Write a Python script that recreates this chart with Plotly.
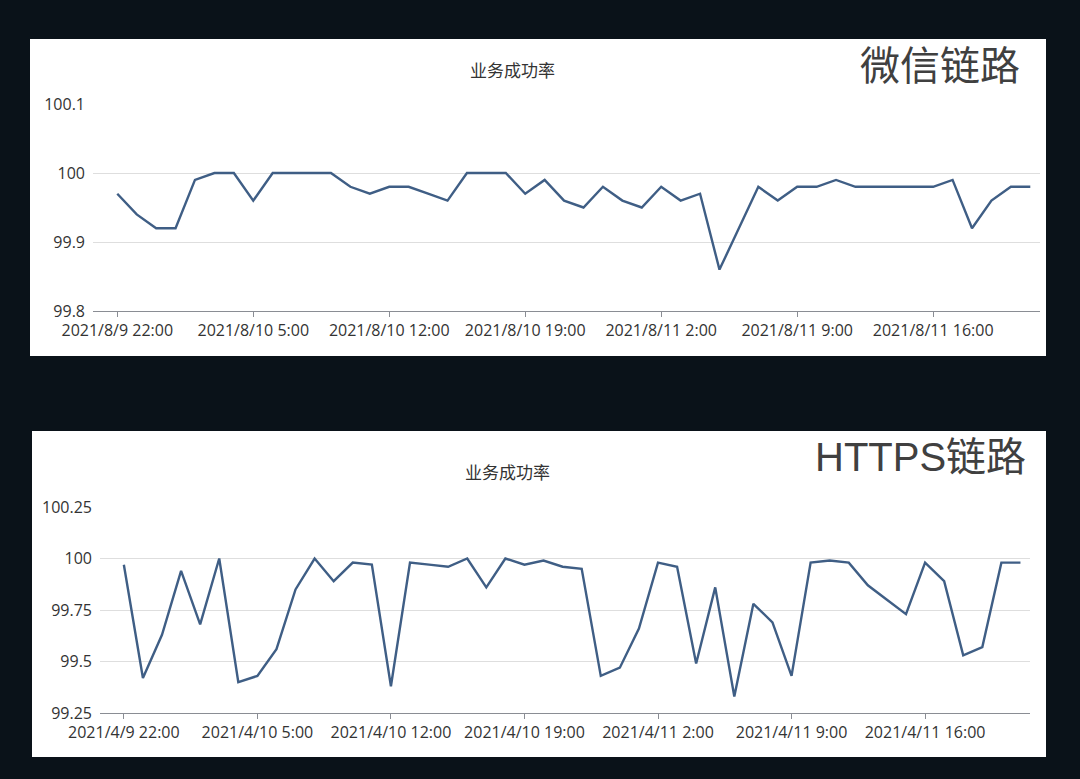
import pandas as pd
import plotly.graph_objects as go

# WeChat channel, hourly success rate (%) from 2021/8/9 22:00
wx_start = "2021-08-09 22:00"
wx_values = [99.97, 99.94, 99.92, 99.92, 99.99, 100, 100, 99.96, 100, 100,
             100, 100, 99.98, 99.97, 99.98, 99.98, 99.97, 99.96, 100, 100,
             100, 99.97, 99.99, 99.96, 99.95, 99.98, 99.96, 99.95, 99.98, 99.96,
             99.97, 99.86, 99.92, 99.98, 99.96, 99.98, 99.98, 99.99, 99.98, 99.98,
             99.98, 99.98, 99.98, 99.99, 99.92, 99.96, 99.98, 99.98]
wx_ticks = ["2021/8/9 22:00", "2021/8/10 5:00", "2021/8/10 12:00", "2021/8/10 19:00",
            "2021/8/11 2:00", "2021/8/11 9:00", "2021/8/11 16:00"]
wx_yticks = [99.8, 99.9, 100, 100.1]
wx_yticktext = ["99.8", "99.9", "100", "100.1"]

# HTTPS channel, hourly success rate (%) from 2021/4/9 22:00
https_start = "2021-04-09 22:00"
https_values = [99.97, 99.42, 99.63, 99.94, 99.68, 100, 99.40, 99.43, 99.56, 99.85,
                100, 99.89, 99.98, 99.97, 99.38, 99.98, 99.97, 99.96, 100, 99.86,
                100, 99.97, 99.99, 99.96, 99.95, 99.43, 99.47, 99.66, 99.98, 99.96,
                99.49, 99.86, 99.33, 99.78, 99.69, 99.43, 99.98, 99.99, 99.98, 99.87,
                99.80, 99.73, 99.98, 99.89, 99.53, 99.57, 99.98, 99.98]
https_ticks = ["2021/4/9 22:00", "2021/4/10 5:00", "2021/4/10 12:00", "2021/4/10 19:00",
               "2021/4/11 2:00", "2021/4/11 9:00", "2021/4/11 16:00"]
https_yticks = [99.25, 99.5, 99.75, 100, 100.25]
https_yticktext = ["99.25", "99.5", "99.75", "100", "100.25"]

chart_title = "业务成功率"
labels = ["微信链路", "HTTPS链路"]

W, H = 1080, 779
LINE = "#3f5e85"
BG = "#0a1219"
FONT = "Noto Sans CJK SC"
TICKFONT = "Open Sans, Noto Sans CJK SC"


def px_x(v):
    return v / W


def px_y(v):
    return 1 - v / H


fig = go.Figure()

panels = [
    # values, start, ticks, yticks, yticktext, yrange, plot box, panel box, title pos, label pos
    (wx_values, wx_start, wx_ticks, wx_yticks, wx_yticktext, [99.8, 100.1],
     (93, 1040, 104, 311), (30, 1046, 39, 356), (512, 70), (1022, 66)),
    (https_values, https_start, https_ticks, https_yticks, https_yticktext, [99.25, 100.25],
     (100, 1030, 507, 713), (32, 1046, 431, 757), (507, 471), (1028, 457)),
]

layout = {}
for i, (vals, start, ticks, ytv, ytt, yr, box, pbox, tpos, lpos) in enumerate(panels):
    n = i + 1
    sfx = "" if n == 1 else str(n)
    times = pd.date_range(start, periods=len(vals), freq="h")
    tickvals = [times[k] for k in range(0, len(vals), 7)][:len(ticks)]

    fig.add_trace(go.Scatter(
        x=times, y=vals, mode="lines",
        line=dict(color=LINE, width=2.4),
        xaxis="x" + sfx, yaxis="y" + sfx, showlegend=False,
    ))

    x0, x1, y0, y1 = box
    layout["xaxis" + sfx] = dict(
        domain=[px_x(x0), px_x(x1)], anchor="y" + sfx, type="date",
        range=[times[0] - pd.Timedelta(minutes=75), times[-1] + pd.Timedelta(minutes=30)],
        tickvals=tickvals, ticktext=ticks, automargin=False,
        showgrid=False, zeroline=False,
        showline=True, linecolor="#8a8d94", linewidth=1,
        ticks="outside", ticklen=5, tickcolor="#8a8d94",
        tickfont=dict(family=TICKFONT, size=16, color="#333333"),
    )
    layout["yaxis" + sfx] = dict(
        domain=[px_y(y1), px_y(y0)], anchor="x" + sfx,
        range=yr, tickvals=ytv, ticktext=ytt, automargin=False,
        showgrid=True, gridcolor="#dedede", gridwidth=1,
        zeroline=False, showline=False, ticks="",
        ticklabelstandoff=7,
        tickfont=dict(family=TICKFONT, size=16, color="#333333"),
    )

    px0, px1, py0, py1 = pbox
    fig.add_shape(type="rect", xref="paper", yref="paper",
                  x0=px_x(px0), x1=px_x(px1), y0=px_y(py1), y1=px_y(py0),
                  fillcolor="white", line=dict(width=0), layer="below")

    fig.add_annotation(x=px_x(tpos[0]), y=px_y(tpos[1]), xref="paper", yref="paper",
                       text=chart_title, showarrow=False, xanchor="center", yanchor="middle",
                       font=dict(family=FONT, size=17, color="#333333"))
    fig.add_annotation(x=px_x(lpos[0]), y=px_y(lpos[1]), xref="paper", yref="paper",
                       text=labels[i], showarrow=False, xanchor="right", yanchor="middle",
                       font=dict(family="Liberation Sans, " + FONT, size=40, color="#404040"))

fig.update_layout(
    width=W, height=H,
    margin=dict(l=0, r=0, t=0, b=0),
    paper_bgcolor=BG, plot_bgcolor="white",
    **layout,
)

fig.write_html("out.html",
               config={"displayModeBar": False},
               post_script="document.body.style.margin='0';"
                           "document.body.style.background='" + BG + "';")
